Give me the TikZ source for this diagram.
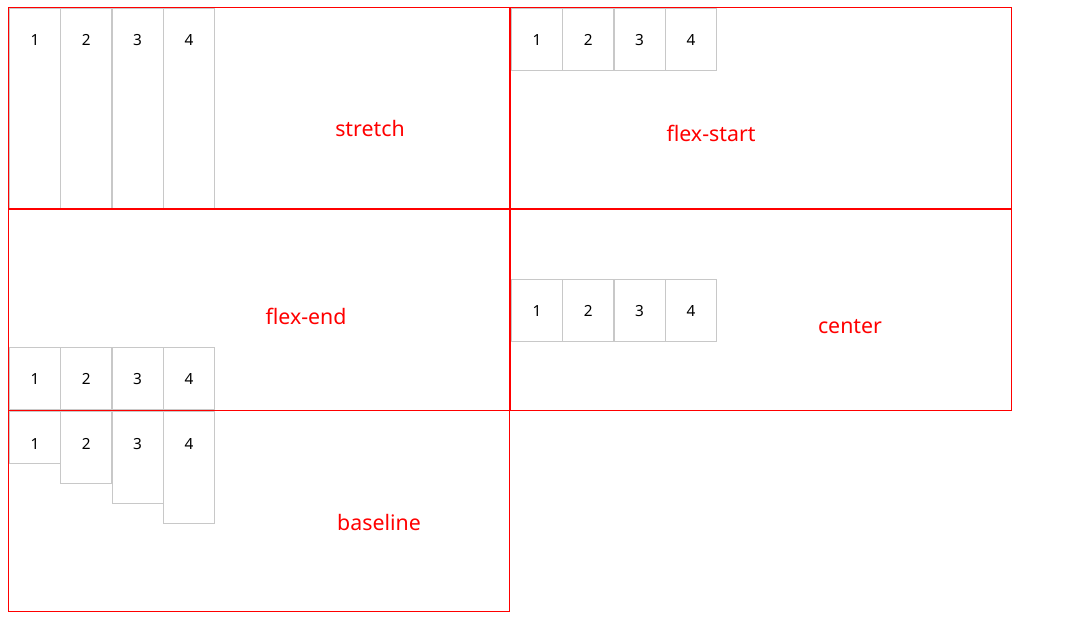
\documentclass[tikz,border=0pt]{standalone}
\usepackage{fontspec}
\setmainfont{Noto Sans}
\definecolor{boxred}{HTML}{FF0000}
\definecolor{itemgray}{HTML}{C8C8C8}
\begin{document}
\begin{tikzpicture}[x=0.75pt,y=-0.75pt,
  item/.style={draw=itemgray, line width=0.8pt, inner sep=0pt, anchor=north west, minimum width=38.2pt},
  num/.style={font=\fontsize{11.5pt}{14pt}\selectfont, text=black, inner sep=0pt},
  lab/.style={font=\fontsize{16pt}{20pt}\selectfont, text=boxred, inner sep=0pt},
  cont/.style={draw=boxred, line width=0.75pt}]
\useasboundingbox (0,0) rectangle (1068,626);
\fill[white] (0,0) rectangle (1068,626);
% stretch
\foreach \i in {1,...,4} {
  \node[item, minimum height=150pt] (st\i) at ({9+51.3*(\i-1)},8) {};
  \node[num] (stn\i) at ([yshift=-24pt]st\i.north) {\i};
}
% flex-start
\foreach \i in {1,...,4} {
  \node[item, minimum height=46.5pt] (fs\i) at ({511+51.3*(\i-1)},8) {};
  \node[num] (fsn\i) at ([yshift=-24pt]fs\i.north) {\i};
}
% flex-end
\foreach \i in {1,...,4} {
  \node[item, minimum height=46.5pt] (fe\i) at ({9+51.3*(\i-1)},347) {};
  \node[num] (fen\i) at ([yshift=-24pt]fe\i.north) {\i};
}
% center
\foreach \i in {1,...,4} {
  \node[item, minimum height=46.5pt] (ce\i) at ({511+51.3*(\i-1)},279) {};
  \node[num] (cen\i) at ([yshift=-24pt]ce\i.north) {\i};
}
% baseline
\foreach \i/\h in {1/39pt,2/54pt,3/69pt,4/84pt} {
  \node[item, minimum height=\h] (bl\i) at ({9+51.3*(\i-1)},411) {};
  \node[num] (bln\i) at ([yshift=-24.5pt]bl\i.north) {\i};
}
% containers
\draw[cont] (8.5,7.5) rectangle (509.5,208.5);
\draw[cont] (510.5,7.5) rectangle (1011.5,208.5);
\draw[cont] (8.5,209.5) rectangle (509.5,410.5);
\draw[cont] (510.5,209.5) rectangle (1011.5,410.5);
\draw[cont] (8.5,410.5) rectangle (509.5,611.5);
% labels
\node[lab] (lst) at (370,128) {stretch};
\node[lab] (lfs) at (711,133) {flex-start};
\node[lab] (lfe) at (306,316) {flex-end};
\node[lab] (lce) at (850,327) {center};
\node[lab] (lbl) at (379,522) {baseline};
\end{tikzpicture}
\end{document}
